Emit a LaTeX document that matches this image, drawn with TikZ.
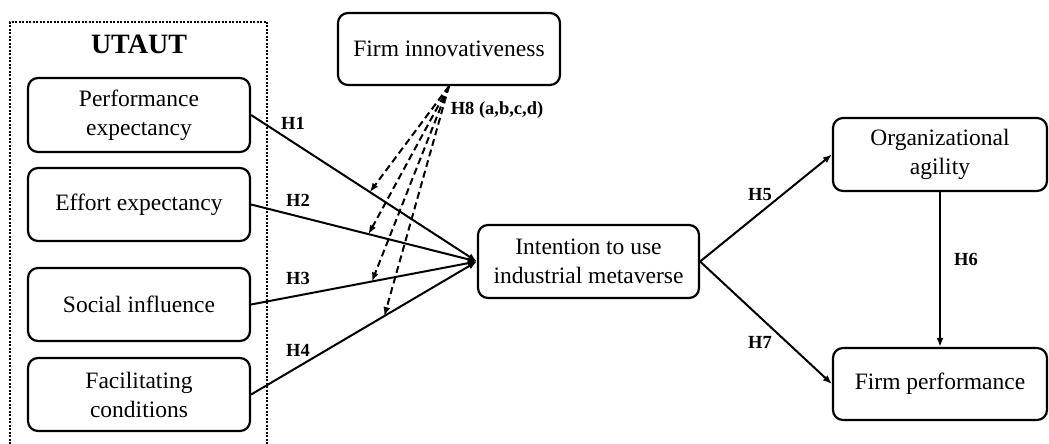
\documentclass[tikz,border=0pt]{standalone}
\usepackage{fontspec}
\setmainfont{Liberation Serif}
\usetikzlibrary{arrows.meta,calc}
\begin{document}
\begin{tikzpicture}[x=1pt,y=-1pt,
 box/.style={draw,line width=2.2pt,rounded corners=10pt,align=center,font=\fontsize{23.5}{29}\selectfont,inner sep=0pt},
 lab/.style={font=\bfseries\fontsize{18.5}{20}\selectfont},
 arr/.style={line width=2pt,-{Latex[length=9pt,width=7pt]}},
 darr/.style={arr,dash pattern=on 7pt off 4pt}]
\useasboundingbox (0,0) rectangle (1049,444);
% UTAUT frame
\draw[line width=2pt,dash pattern=on 2pt off 1.5pt] (10,444) -- (10,22) -- (267,22) -- (267,444);
\node[font=\bfseries\fontsize{28}{30}\selectfont] (utaut) at (139,44) {UTAUT};
% boxes
\node[box,minimum width=222pt,minimum height=74pt] (pe) at (139,115) {Performance\\expectancy};
\node[box,minimum width=222pt,minimum height=73pt] (ee) at (139,204.5) {Effort expectancy};
\node[box,minimum width=222pt,minimum height=73pt] (si) at (139,304.5) {Social influence};
\node[box,minimum width=222pt,minimum height=73pt] (fc) at (139,394.5) {Facilitating\\conditions};
\node[box,minimum width=222pt,minimum height=72pt] (fi) at (449,49) {Firm innovativeness};
\node[box,minimum width=221pt,minimum height=73pt] (it) at (588.5,261.5) {Intention to use\\industrial metaverse};
\node[box,minimum width=214pt,minimum height=73pt] (oa) at (940,154.5) {Organizational\\agility};
\node[box,minimum width=214pt,minimum height=72pt] (fp) at (940,384) {Firm performance};
% main arrows
\draw[arr] (pe.east) -- (it.west);
\draw[arr] (ee.east) -- (it.west);
\draw[arr] (si.east) -- (it.west);
\draw[arr] (fc.east) -- (it.west);
\draw[arr] (it.east) -- (oa.west);
\draw[arr] (it.east) -- (fp.west);
\draw[arr] (oa.south) -- (fp.north);
% moderation targets
\coordinate (m1) at ($(pe.east)!0.526!(it.west)$);
\coordinate (m2) at ($(ee.east)!0.52!(it.west)$);
\coordinate (m3) at ($(si.east)!0.535!(it.west)$);
\coordinate (m4) at ($(fc.east)!0.59!(it.west)$);
\draw[darr] (fi.south) -- (m1);
\draw[darr] (fi.south) -- (m2);
\draw[darr] (fi.south) -- (m3);
\draw[darr] (fi.south) -- (m4);
% labels
\node[lab] (h1) at (293,123) {H1};
\node[lab] (h2) at (298,200) {H2};
\node[lab] (h3) at (298,278) {H3};
\node[lab] (h4) at (298,350) {H4};
\node[lab] (h8) at (497,110) {H8 (a,b,c,d)};
\node[lab] (h5) at (760,195) {H5};
\node[lab] (h7) at (760,342) {H7};
\node[lab] (h6) at (966,259) {H6};
\end{tikzpicture}
\end{document}
